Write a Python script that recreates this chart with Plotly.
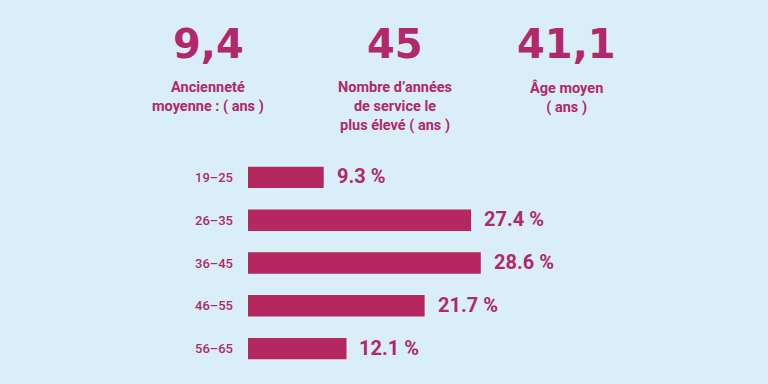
import plotly.graph_objects as go

categories = ["19–25", "26–35", "36–45", "46–55", "56–65"]
values = [9.3, 27.4, 28.6, 21.7, 12.1]
value_labels = ["9.3 %", "27.4 %", "28.6 %", "21.7 %", "12.1 %"]

kpi_values = ["9,4", "45", "41,1"]
kpi_labels = ["Ancienneté<br>moyenne : ( ans )",
              "Nombre d’années<br>de service le<br>plus élevé ( ans )",
              "Âge moyen<br>( ans )"]

BG = "#d9eef8"
BAR = "#b5285f"
TXT = "#b2286a"
FONT = "Roboto"

W, H = 768, 384
L, R, T, B = 248, 0, 156, 14
pw, ph = W - L - R, H - T - B

def px_x(x):
    return (x - L) / pw

def px_y(y):
    return (H - B - y) / ph

fig = go.Figure()
fig.add_trace(go.Bar(
    x=values, y=categories, orientation="h",
    marker=dict(color=BAR, line=dict(width=0)),
    hoverinfo="skip",
))

annotations = []
for c, v, lab in zip(categories, values, value_labels):
    annotations.append(dict(
        x=v, y=c, xref="x", yref="y", text=lab, showarrow=False,
        xanchor="left", yanchor="middle", xshift=11, yshift=1,
        font=dict(family=FONT, size=20, color=TXT, weight="bold"),
    ))

kpi_x = [208, 395, 566]
for xpx, kv, kl in zip(kpi_x, kpi_values, kpi_labels):
    annotations.append(dict(
        x=px_x(xpx), y=px_y(44), xref="paper", yref="paper", text=kv,
        showarrow=False, xanchor="center", yanchor="middle",
        font=dict(family="DejaVu Sans", size=40, color=TXT, weight="bold"),
    ))
    annotations.append(dict(
        x=px_x(xpx), y=px_y(77), xref="paper", yref="paper", text=kl,
        showarrow=False, xanchor="center", yanchor="top",
        font=dict(family="Liberation Sans Narrow, Roboto", size=14.5, color=TXT, weight="bold"),
    ))

fig.update_layout(
    width=W, height=H,
    margin=dict(l=L, r=R, t=T, b=B, pad=0),
    paper_bgcolor=BG, plot_bgcolor=BG,
    bargap=0.5,
    showlegend=False,
    xaxis=dict(range=[0, pw / 8.14], visible=False, fixedrange=True),
    yaxis=dict(
        categoryorder="array", categoryarray=categories,
        autorange="reversed", showgrid=False, zeroline=False,
        showline=False, ticks="", ticklabelstandoff=14, fixedrange=True,
        tickfont=dict(family=FONT, size=13, color=TXT, weight=500),
    ),
    annotations=annotations,
)

fig.write_html(
    "out.html",
    config={"displayModeBar": False},
    post_script="document.body.style.margin='0';document.body.style.overflow='hidden';document.body.style.background='" + BG + "';",
)
